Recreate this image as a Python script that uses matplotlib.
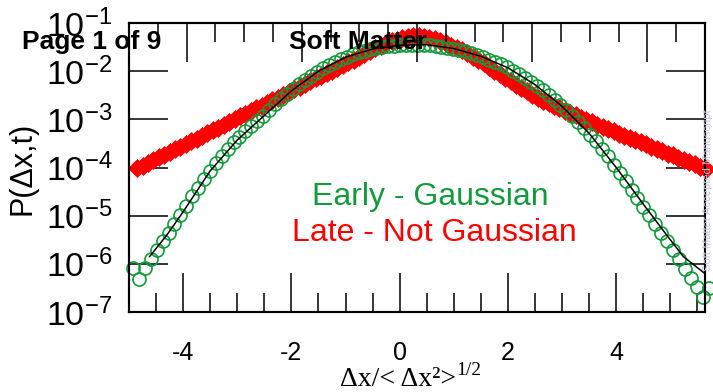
import numpy as np
import matplotlib
matplotlib.use('Agg')
import matplotlib.pyplot as plt
from matplotlib.ticker import FixedLocator, MultipleLocator, NullLocator

plt.rcParams['font.family'] = ['Liberation Sans', 'DejaVu Sans']

# ---- data (y given as log10 P) ----
early_x = [-4.93, -4.82, -4.71, -4.60, -4.49, -4.38, -4.27, -4.16, -4.05, -3.94,
           -3.83, -3.72, -3.61, -3.50, -3.39, -3.28, -3.17, -3.06, -2.96, -2.85,
           -2.74, -2.63, -2.52, -2.41, -2.30, -2.19, -2.08, -1.97, -1.86, -1.75,
           -1.64, -1.53, -1.42, -1.31, -1.20, -1.09, -0.98, -0.87, -0.76, -0.65,
           -0.54, -0.43, -0.32, -0.21, -0.10, 0.01, 0.12, 0.23, 0.34, 0.45,
           0.56, 0.67, 0.77, 0.88, 0.99, 1.10, 1.21, 1.32, 1.43, 1.54,
           1.65, 1.76, 1.87, 1.98, 2.09, 2.20, 2.31, 2.42, 2.53, 2.64,
           2.75, 2.86, 2.97, 3.08, 3.19, 3.30, 3.41, 3.52, 3.63, 3.74,
           3.85, 3.96, 4.07, 4.18, 4.29, 4.39, 4.50, 4.61, 4.72, 4.83,
           4.94, 5.05, 5.16, 5.27, 5.38, 5.49, 5.60, 5.71]
early_log10 = [-6.09, -6.32, -6.09, -5.90, -5.72, -5.53, -5.36, -5.18, -4.99, -4.80,
               -4.60, -4.42, -4.24, -4.07, -3.91, -3.76, -3.61, -3.48, -3.36, -3.24,
               -3.13, -3.03, -2.93, -2.80, -2.68, -2.58, -2.47, -2.37, -2.27, -2.18,
               -2.10, -2.02, -1.94, -1.87, -1.81, -1.75, -1.70, -1.65, -1.61, -1.58,
               -1.55, -1.52, -1.50, -1.48, -1.47, -1.46, -1.45, -1.45, -1.45, -1.45,
               -1.46, -1.47, -1.49, -1.51, -1.53, -1.56, -1.59, -1.63, -1.67, -1.71,
               -1.76, -1.81, -1.86, -1.92, -1.99, -2.06, -2.14, -2.22, -2.31, -2.40,
               -2.49, -2.59, -2.70, -2.81, -2.93, -3.05, -3.18, -3.32, -3.46, -3.61,
               -3.77, -3.94, -4.11, -4.29, -4.46, -4.63, -4.81, -4.99, -5.17, -5.35,
               -5.53, -5.72, -5.91, -6.10, -6.29, -6.48, -6.68, -6.50]

fit_x = [-4.62, -4.30, -4.00, -3.50, -3.00, -2.50, -2.00, -1.50, -1.00, -0.50,
         0.00, 0.50, 1.00, 1.50, 2.00, 2.50, 3.00, 3.50, 4.00, 4.50,
         4.93, 5.24, 5.50, 5.67]
fit_log10 = [-5.85, -5.40, -4.92, -4.07, -3.43, -2.92, -2.41, -2.00, -1.71, -1.54,
             -1.46, -1.45, -1.53, -1.69, -1.93, -2.28, -2.73, -3.29, -4.00, -4.76,
             -5.40, -5.85, -6.08, -6.23]

late_x = [-4.85, -4.75, -4.65, -4.55, -4.45, -4.35, -4.25, -4.15, -4.05, -3.95,
          -3.85, -3.75, -3.65, -3.55, -3.45, -3.35, -3.25, -3.15, -3.05, -2.95,
          -2.85, -2.75, -2.65, -2.55, -2.45, -2.35, -2.25, -2.15, -2.05, -1.95,
          -1.85, -1.75, -1.65, -1.55, -1.45, -1.35, -1.25, -1.15, -1.05, -0.95,
          -0.85, -0.75, -0.65, -0.55, -0.45, -0.35, -0.25, -0.15, -0.05, 0.05,
          0.15, 0.25, 0.35, 0.45, 0.55, 0.65, 0.75, 0.85, 0.95, 1.05,
          1.15, 1.25, 1.35, 1.45, 1.55, 1.65, 1.75, 1.85, 1.95, 2.05,
          2.15, 2.25, 2.35, 2.45, 2.55, 2.65, 2.75, 2.85, 2.95, 3.05,
          3.15, 3.25, 3.35, 3.45, 3.55, 3.65, 3.75, 3.85, 3.95, 4.05,
          4.15, 4.25, 4.35, 4.45, 4.55, 4.65, 4.75, 4.85, 4.95, 5.05,
          5.15, 5.25, 5.35, 5.45, 5.55, 5.65]
late_log10 = [-4.02, -3.96, -3.91, -3.85, -3.79, -3.74, -3.68, -3.62, -3.57, -3.51,
              -3.45, -3.40, -3.34, -3.28, -3.23, -3.17, -3.11, -3.06, -3.00, -2.94,
              -2.89, -2.83, -2.77, -2.72, -2.66, -2.60, -2.55, -2.49, -2.43, -2.37,
              -2.32, -2.26, -2.21, -2.15, -2.10, -2.04, -1.99, -1.93, -1.88, -1.82,
              -1.76, -1.70, -1.64, -1.58, -1.52, -1.47, -1.42, -1.38, -1.35, -1.32,
              -1.30, -1.28, -1.28, -1.29, -1.31, -1.34, -1.38, -1.42, -1.47, -1.51,
              -1.57, -1.63, -1.70, -1.77, -1.84, -1.91, -1.99, -2.06, -2.14, -2.21,
              -2.28, -2.35, -2.42, -2.49, -2.55, -2.61, -2.66, -2.72, -2.77, -2.82,
              -2.87, -2.92, -2.97, -3.02, -3.06, -3.11, -3.16, -3.20, -3.25, -3.30,
              -3.34, -3.39, -3.43, -3.48, -3.52, -3.57, -3.62, -3.66, -3.71, -3.75,
              -3.80, -3.84, -3.89, -3.93, -3.98, -4.03]

x_ticks = [-4, -2, 0, 2, 4]
x_tick_labels = ['-4', '-2', '0', '2', '4']
y_ticks = [1e-7, 1e-6, 1e-5, 1e-4, 1e-3, 1e-2, 1e-1]
y_tick_labels = [r'$\mathregular{10^{-7}}$', r'$\mathregular{10^{-6}}$',
                 r'$\mathregular{10^{-5}}$', r'$\mathregular{10^{-4}}$',
                 r'$\mathregular{10^{-3}}$', r'$\mathregular{10^{-2}}$',
                 r'$\mathregular{10^{-1}}$']
top_major_ticks = [2, 6, 10, 14, 18]
top_minor_ticks = [1, 3, 4, 5, 7, 8, 9, 11, 12, 13, 15, 16, 17, 19]

GREEN = '#139a3c'
RED = '#ff0000'
SERIF = ['Liberation Serif', 'DejaVu Serif']

W, H = 713, 392
fig = plt.figure(figsize=(W / 100, H / 100), dpi=100)
L, R, T, B = 129, 705, 23, 312
ax = fig.add_axes([L / W, 1 - B / H, (R - L) / W, (B - T) / H])
ax.set_yscale('log')
ax.set_xlim(-5.0, 5.64)
ax.set_ylim(1e-7, 1e-1)

ax.plot(late_x, 10 ** np.array(late_log10), ls='none', marker='D', ms=9.0,
        color=RED, mec=RED, mew=0.5, zorder=2, clip_on=False)
ax.plot(early_x, 10 ** np.array(early_log10), ls='none', marker='o', ms=9.4,
        mfc='none', mec=GREEN, mew=1.2, zorder=3, clip_on=False)
ax.plot(fit_x, 10 ** np.array(fit_log10), color='black', lw=1.1, zorder=4)

ax.set_xticks(x_ticks, labels=x_tick_labels)
ax.xaxis.set_minor_locator(MultipleLocator(0.5))
ax.set_yticks(y_ticks, labels=y_tick_labels)
ax.yaxis.set_minor_locator(NullLocator())
ax.yaxis.set_ticks_position('both')
ax.tick_params(axis='both', which='major', direction='in', length=28, width=1.1, color='black')
ax.tick_params(axis='x', which='minor', direction='in', length=14, width=1.1)
ax.tick_params(axis='y', labelsize=24.5, pad=12, right=True, labelright=False)
ax.tick_params(axis='x', labelsize=18, pad=21, top=False)

ax2 = ax.twiny()
ax2.set_xlim(0, 20)
ax2.xaxis.set_major_locator(FixedLocator(top_major_ticks))
ax2.xaxis.set_minor_locator(FixedLocator(top_minor_ticks))
ax2.tick_params(axis='x', which='major', direction='in', length=28, width=1.1,
                labeltop=False, top=True)
ax2.tick_params(axis='x', which='minor', direction='in', length=14, width=1.1, top=True)

for a in (ax, ax2):
    for s in a.spines.values():
        s.set_linewidth(1.5)

# texts
fig.text(22 / W, 1 - 168 / H, 'P(Δx,t)', rotation=90, fontsize=22,
         ha='center', va='center')
xl = fig.text(340 / W, 1 - 386 / H, 'Δx/< Δx²>', family=SERIF, fontsize=20,
              ha='left', va='baseline')
ax.annotate('1/2', xy=(1.0, 0.68), xycoords=xl, ha='left', va='baseline',
            family=SERIF, fontsize=14, annotation_clip=False)
fig.text(430 / W, 1 - 197 / H, 'Early - Gaussian', color=GREEN, fontsize=23,
         ha='center', va='center')
fig.text(434 / W, 1 - 233 / H, 'Late - Not Gaussian', color=RED, fontsize=23,
         ha='center', va='center')
fig.text(22 / W, 1 - 42 / H, 'Page 1 of 9', fontsize=19, fontweight='bold',
         ha='left', va='center')
fig.text(289 / W, 1 - 42 / H, 'Soft Matter', fontsize=19, fontweight='bold',
         ha='left', va='center')
fig.text(708 / W, 1 - 190 / H, 'Soft Matter Accepted Manuscript', rotation=90,
         fontsize=8, color='#c4c4dc', ha='center', va='center')

fig.savefig('out.png', dpi=100)
